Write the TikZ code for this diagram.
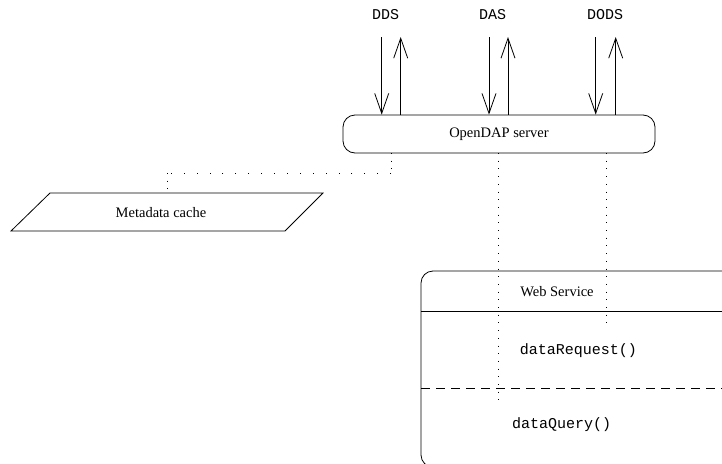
\documentclass[tikz,border=0pt]{standalone}
\usepackage{fontspec}
\setmainfont{Liberation Serif}
\setmonofont{Liberation Mono}
\usetikzlibrary{arrows.meta,calc}
\begin{document}
\begin{tikzpicture}[x=1pt,y=-1pt, line width=0.8pt,
  lbl/.style={font=\fontsize{14.5}{17}\selectfont, inner sep=0pt},
  mono/.style={font=\fontsize{15}{17}\selectfont\ttfamily, inner sep=0pt},
  flow/.style={-{Straight Barb[length=20pt,width=14pt]}},
  vdots/.style={dash pattern=on 0.9pt off 6.8pt},
  hdots/.style={dash pattern=on 0.9pt off 12pt},
  box/.style={draw, rounded corners=12pt, minimum width=312pt, minimum height=38pt, inner sep=0pt}
  ]
\useasboundingbox (0,0) rectangle (722,463);

% server
\node[box, lbl] (srv) at (499,134) {OpenDAP server};

% top labels
\node[mono] (dds) at (385.5,15) {DDS};
\node[mono] (das) at (492.5,15) {DAS};
\node[mono] (dods) at (605,15) {DODS};

% arrow ends
\coordinate (ddsIn) at (381.7,37);
\coordinate (ddsOut) at (400.7,37);
\coordinate (dasIn) at (489,37);
\coordinate (dasOut) at (508,37);
\coordinate (dodsIn) at (595.7,37);
\coordinate (dodsOut) at (615.7,37);

\draw[flow] (ddsIn) -- (ddsIn |- srv.north);
\draw[flow] (ddsOut |- srv.north) -- (ddsOut);
\draw[flow] (dasIn) -- (dasIn |- srv.north);
\draw[flow] (dasOut |- srv.north) -- (dasOut);
\draw[flow] (dodsIn) -- (dodsIn |- srv.north);
\draw[flow] (dodsOut |- srv.north) -- (dodsOut);

% metadata cache parallelogram
\coordinate (mcTL) at (50,193);
\coordinate (mcTR) at (323,193);
\coordinate (mcBR) at (285,231);
\coordinate (mcBL) at (11,231);
\draw (mcTL) -- (mcTR) -- (mcBR) -- (mcBL) -- cycle;
\node[lbl] (cache) at (161,213) {Metadata cache};

% dotted link server -> cache
\coordinate (srvA) at (391,153);
\coordinate (bendA) at (391,173);
\coordinate (bendB) at (167,173);
\coordinate (cacheTop) at (167,193);
\draw[vdots] (srvA) -- (bendA);
\draw[hdots] (bendA) -- (bendB);
\draw[vdots] (bendB) -- (cacheTop);

% web service box
\coordinate (wsTR) at (740,271);
\coordinate (wsTL) at (421,271);
\coordinate (wsBL) at (421,467);
\coordinate (wsBR) at (740,467);
\draw[rounded corners=12pt] (wsTR) -- (wsTL) -- (wsBL) -- (wsBR);
\coordinate (sepL) at (421,311);
\coordinate (sepR) at (740,311);
\draw (sepL) -- (sepR);
\coordinate (dashL) at (421,388);
\coordinate (dashR) at (740,388);
\draw[dash pattern=on 9pt off 6pt] (dashL) -- (dashR);

\node[lbl] (ws) at (557,292) {Web Service};
\node[mono] (dreq) at (578.5,351) {dataRequest()};
\node[mono] (dq) at (561.7,425) {dataQuery()};

% dotted links from server into web service
\coordinate (srvB) at (498,153);
\coordinate (endB) at (498,407);
\coordinate (srvC) at (606,153);
\coordinate (endC) at (606,330);
\draw[vdots] (srvB) -- (endB);
\draw[vdots] (srvC) -- (endC);
\end{tikzpicture}
\end{document}
